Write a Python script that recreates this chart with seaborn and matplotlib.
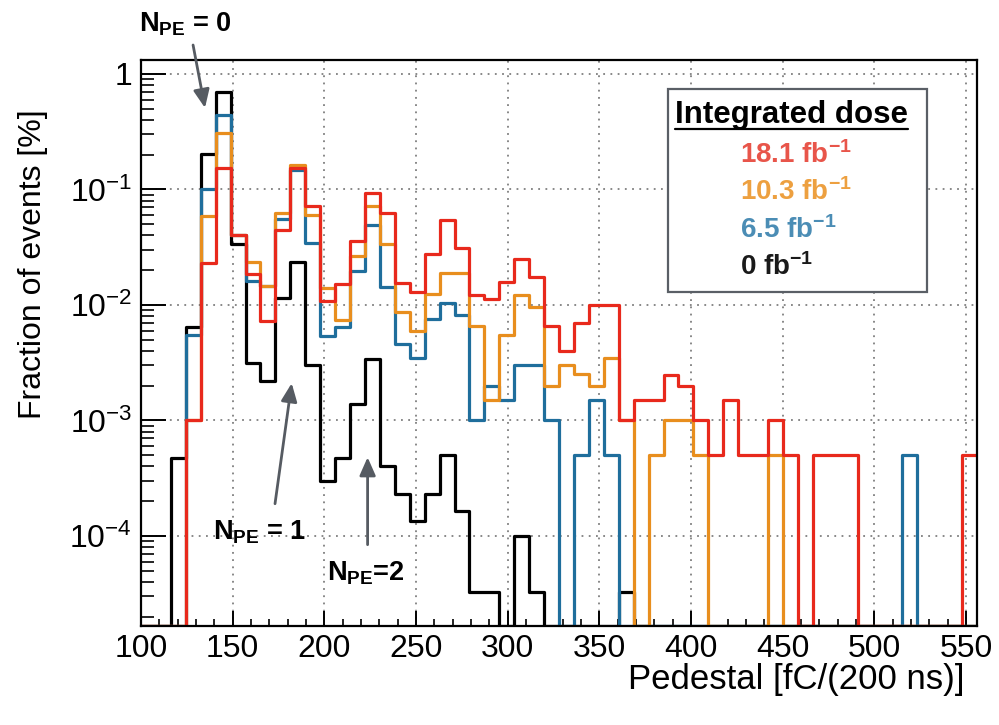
import numpy as np
import pandas as pd
import matplotlib
matplotlib.use("Agg")
import matplotlib.pyplot as plt
from matplotlib.lines import Line2D
from matplotlib.patches import Rectangle
from matplotlib.ticker import FixedLocator, FixedFormatter, LogLocator, MultipleLocator, NullFormatter
import seaborn as sns

# ---- pedestal histograms (fraction of events in %, 56 bins from 100 to 556 fC) ----
x_lo, x_hi, n_bins = 100.0, 556.0, 56

frac_0fb = [0, 0, 4.7e-4, 6.4e-3, 0.203, 0.696, 0.0335, 3.16e-3, 2.18e-3, 0.0115,
            0.0237, 3.03e-3, 3.0e-4, 4.7e-4, 1.39e-3, 3.41e-3, 4.0e-4, 2.32e-4, 1.34e-4, 2.32e-4,
            4.97e-4, 1.65e-4, 3.3e-5, 3.3e-5, 0, 1.0e-4, 3.3e-5, 0, 0, 0,
            0, 0, 3.3e-5, 0, 0, 0, 0, 0, 0, 0,
            0, 0, 0, 0, 0, 0, 0, 0, 0, 0,
            0, 0, 0, 0, 0, 0]

frac_6p5fb = [0, 0, 0, 5.5e-3, 0.100, 0.444, 0.040, 0.016, 0.0146, 0.0556,
              0.147, 0.0341, 5.4e-3, 6.5e-3, 0.0198, 0.0492, 0.0142, 4.6e-3, 3.46e-3, 7.5e-3,
              0.0104, 8.1e-3, 1.01e-3, 2.0e-3, 1.51e-3, 3.04e-3, 3.04e-3, 1.0e-3, 0, 5.0e-4,
              1.5e-3, 5.0e-4, 0, 0, 0, 0, 0, 0, 0, 0,
              0, 0, 0, 0, 0, 0, 0, 0, 0, 0,
              0, 5.0e-4, 0, 0, 0, 0]

frac_10p3fb = [0, 0, 0, 1.0e-3, 0.0594, 0.305, 0.040, 0.0237, 0.0146, 0.063,
               0.162, 0.060, 0.0139, 7.4e-3, 0.0265, 0.0723, 0.0336, 8.6e-3, 5.96e-3, 0.0124,
               0.0189, 0.0189, 6.53e-3, 1.51e-3, 5.53e-3, 0.0121, 9.6e-3, 2.0e-3, 3.0e-3, 2.5e-3,
               2.0e-3, 3.5e-3, 1.0e-3, 0, 5.0e-4, 1.0e-3, 1.0e-3, 5.0e-4, 0, 0,
               0, 0, 5.0e-4, 0, 0, 0, 0, 0, 0, 0,
               0, 0, 0, 0, 0, 0]

frac_18p1fb = [0, 0, 0, 1.0e-3, 0.0232, 0.152, 0.040, 0.0184, 7.2e-3, 0.0445,
               0.152, 0.0723, 0.0109, 0.0151, 0.0357, 0.0935, 0.0628, 0.0154, 0.013, 0.0274,
               0.0539, 0.031, 0.0121, 0.0113, 0.0157, 0.0252, 0.0175, 6.6e-3, 4.0e-3, 7.0e-3,
               0.010, 0.010, 1.0e-3, 1.49e-3, 1.49e-3, 2.48e-3, 2.0e-3, 1.0e-3, 5.0e-4, 1.49e-3,
               5.0e-4, 5.0e-4, 1.0e-3, 5.0e-4, 0, 5.0e-4, 5.0e-4, 5.0e-4, 0, 0,
               0, 0, 0, 0, 0, 5.0e-4]

dose_labels = ["18.1", "10.3", "6.5", "0"]
x_ticks = [100, 150, 200, 250, 300, 350, 400, 450, 500, 550]
y_ticks = [1e-4, 1e-3, 1e-2, 1e-1, 1]
y_tick_labels = [r"$10^{-4}$", r"$10^{-3}$", r"$10^{-2}$", r"$10^{-1}$", "1"]

y_lo, y_hi = 1.66e-5, 1.32

line_colors = {"0": "#000000", "6.5": "#1F6E9C", "10.3": "#E88E1E", "18.1": "#E8291C"}
text_colors = {"0": "#1A1A1A", "6.5": "#4B8DB5", "10.3": "#EDA040", "18.1": "#E8554A"}

# ---- figure ----
W, H = 999, 725
sns.set_theme(style="white")
plt.rcParams["font.family"] = ["Liberation Sans", "DejaVu Sans"]
plt.rcParams["mathtext.fontset"] = "custom"
plt.rcParams["mathtext.rm"] = "Liberation Sans"
plt.rcParams["mathtext.it"] = "Liberation Sans:italic"
plt.rcParams["mathtext.bf"] = "Liberation Sans:bold"

def fx(px):
    return px / W

def fy(py):
    return 1 - py / H

fig = plt.figure(figsize=(W / 100, H / 100), dpi=100)
ax = fig.add_axes([fx(141), fy(626), (977 - 141) / W, (626 - 60) / H])
ax.set_yscale("log")

edges = np.linspace(x_lo, x_hi, n_bins + 1)
centers = 0.5 * (edges[:-1] + edges[1:])

series = [("0", frac_0fb), ("6.5", frac_6p5fb), ("10.3", frac_10p3fb), ("18.1", frac_18p1fb)]
for key, vals in series:
    # empty bins sit on the lower frame edge, as in a log-scale histogram frame
    df = pd.DataFrame({"pedestal": centers,
                       "fraction": np.maximum(np.asarray(vals, dtype=float), y_lo)})
    sns.histplot(data=df, x="pedestal", weights="fraction", bins=edges.tolist(),
                 element="step", fill=False, color=line_colors[key], linewidth=2.3, ax=ax)

ax.set_xlim(x_lo, x_hi)
ax.set_ylim(y_lo, y_hi)
ax.set_xlabel("")
ax.set_ylabel("")

# ticks
ax.xaxis.set_major_locator(FixedLocator(x_ticks))
ax.xaxis.set_minor_locator(MultipleLocator(10))
ax.yaxis.set_major_locator(FixedLocator(y_ticks))
ax.yaxis.set_major_formatter(FixedFormatter(y_tick_labels))
ax.yaxis.set_minor_locator(LogLocator(base=10, subs=np.arange(2, 10)))
ax.yaxis.set_minor_formatter(NullFormatter())
ax.tick_params(axis="both", which="both", direction="in", color="black", labelcolor="black",
               bottom=True, left=True, top=False, right=False)
ax.tick_params(axis="y", which="major", length=18, width=1.4, pad=6.5, labelsize=23)
ax.tick_params(axis="y", which="minor", length=9, width=1.2)
ax.tick_params(axis="x", which="major", length=11, width=1.4, pad=5.5, labelsize=23)
ax.tick_params(axis="x", which="minor", length=5, width=1.2)

ax.grid(True, which="major", color="#7f7f7f", linestyle=(0, (1, 3)), linewidth=1.3)
for s in ax.spines.values():
    s.set_visible(True)
    s.set_color("black")
    s.set_linewidth(1.6)

# axis titles
fig.text(fx(965), fy(689), "Pedestal [fC/(200 ns)]", ha="right", va="baseline", fontsize=25,
         color="black")
fig.text(fx(33), fy(264), "Fraction of events [%]", ha="center", va="center",
         rotation=90, fontsize=23, color="black")

# photo-electron peak annotations
arrow_kw = dict(arrowstyle="-|>,head_length=0.5,head_width=0.22", color="#565B62", lw=2.0,
                mutation_scale=22, shrinkA=0, shrinkB=0)
ax.annotate("", xy=(134.9, 0.508), xytext=(128.4, 1.78), arrowprops=arrow_kw,
            annotation_clip=False)
ax.annotate("", xy=(182.2, 2.1e-3), xytext=(173.1, 1.9e-4), arrowprops=arrow_kw,
            annotation_clip=False)
ax.annotate("", xy=(223.6, 4.8e-4), xytext=(223.6, 8.4e-5), arrowprops=arrow_kw,
            annotation_clip=False)

npe_kw = dict(fontsize=19.5, fontweight="bold", va="center", ha="center", color="black")
fig.text(fx(185), fy(24), r"$\mathbf{N_{PE}}$ = 0", **npe_kw)
fig.text(fx(260), fy(532), r"$\mathbf{N_{PE}}$ = 1", **npe_kw)
fig.text(fx(366), fy(573), r"$\mathbf{N_{PE}}$=2", **npe_kw)

# dose legend box
box = Rectangle((fx(668), fy(292)), (927 - 668) / W, (292 - 89) / H, transform=fig.transFigure,
                facecolor="white", edgecolor="#5A5F66", linewidth=1.6, zorder=5)
fig.add_artist(box)
title = fig.text(fx(675), fy(115), "Integrated dose", ha="left", va="center",
                 fontsize=22.5, fontweight="bold", color="black", zorder=6)
entry_y = {"18.1": 155, "10.3": 192, "6.5": 230, "0": 267}
for key in dose_labels:
    fig.text(fx(740), fy(entry_y[key]), key + r" fb$^{\mathbf{-1}}$", ha="left", va="center",
             fontsize=20, fontweight="bold", color=text_colors[key], zorder=6)

fig.canvas.draw()
bb = title.get_window_extent()
fig.add_artist(Line2D([bb.x0 / W, bb.x1 / W], [fy(129), fy(129)], transform=fig.transFigure,
                      color="black", linewidth=1.6, zorder=6))

fig.savefig("out.png", dpi=100)
